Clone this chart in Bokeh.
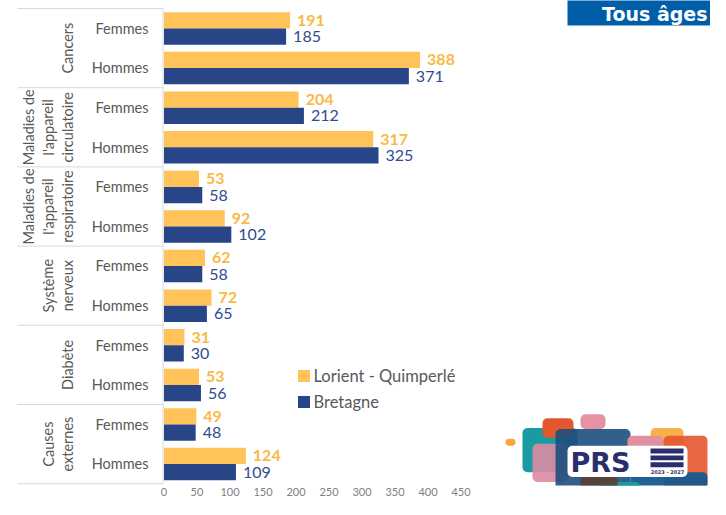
from bokeh.plotting import figure
from bokeh.models import Range1d, FixedTicker
from bokeh.core.properties import value
from bokeh.embed import file_html
from bokeh.resources import INLINE

# ---------------- data ----------------
groups = [["Cancers"],
          ["Maladies de", "l'appareil", "circulatoire"],
          ["Maladies de", "l'appareil", "respiratoire"],
          ["Système", "nerveux"],
          ["Diabète"],
          ["Causes", "externes"]]
sexes = ["Femmes", "Hommes"]
series_names = ["Lorient - Quimperlé", "Bretagne"]
lorient = [191, 388, 204, 317, 53, 92, 62, 72, 31, 53, 49, 124]
bretagne = [185, 371, 212, 325, 58, 102, 58, 65, 30, 56, 48, 109]
x_ticks = [0, 50, 100, 150, 200, 250, 300, 350, 400, 450]

# ---------------- style ----------------
ORANGE = "#FFC35A"
ORANGE_TXT = "#F9B945"
BLUE = "#284587"
BLUE_TXT = "#2F4C8E"
GRAY = "#595959"
LINE = "#D9D9D9"
FONT = "Lato"

W, H = 710, 499
PX0, KX = 163.5, 0.66            # figure px of value 0, px per unit
ROW = 39.6                       # px per row
TOP = 8.0                        # px above first row
FRAME_H = 485


def rx(ref_x):                   # reference px -> data x
    return (ref_x - PX0) / KX


def ry(ref_y):                   # reference px -> row units
    return (ref_y - 9) / 40.4


def fy(fig_y):                   # figure px -> row units
    return (fig_y - TOP) / ROW


p = figure(width=W, height=H, output_backend="svg", toolbar_location=None,
           x_range=Range1d((0 - PX0) / KX, (W - PX0) / KX),
           y_range=Range1d((FRAME_H - TOP) / ROW, -TOP / ROW),
           y_axis_location=None, min_border=0, min_border_bottom=H - FRAME_H)
p.grid.visible = False
p.outline_line_color = None
p.background_fill_color = "white"
p.border_fill_color = "white"

ax = p.xaxis[0]
ax.ticker = FixedTicker(ticks=x_ticks)
ax.axis_line_color = None
ax.major_tick_line_color = None
ax.minor_tick_line_color = None
ax.major_tick_out = 0
ax.major_tick_in = 0
ax.major_label_standoff = 2
ax.major_label_text_font = FONT
ax.major_label_text_font_size = "11px"
ax.major_label_text_color = "#808080"

n = len(lorient)
centers = [i + 0.5 for i in range(n)]
y_or = [i + 0.30 for i in range(n)]
y_bl = [i + 0.71 for i in range(n)]

# separators and axis line
bounds = list(range(0, n + 1, 2))
p.segment(x0=[rx(17)] * len(bounds), x1=[rx(162.5)] * len(bounds),
          y0=bounds, y1=bounds, line_color=LINE, line_width=1)
p.segment(x0=[rx(162.5)], x1=[rx(162.5)], y0=[0], y1=[n], line_color=LINE, line_width=1)

# bars
p.hbar(y=y_or, left=0, right=lorient, height=0.41, fill_color=ORANGE, line_color=None)
p.hbar(y=y_bl, left=0, right=bretagne, height=0.41, fill_color=BLUE, line_color=None)

# value labels
p.text(x=lorient, y=y_or, text=[str(v) for v in lorient], x_offset=7,
       text_baseline="middle", text_align="left", text_font=value(FONT),
       text_font_style="bold", text_font_size="16px", text_color=ORANGE_TXT)
p.text(x=bretagne, y=y_bl, text=[str(v) for v in bretagne], x_offset=7,
       text_baseline="middle", text_align="left", text_font=value(FONT),
       text_font_size="16px", text_color=BLUE_TXT)

# sex labels
p.text(x=[rx(148)] * n, y=centers, text=sexes * len(groups),
       text_align="right", text_baseline="middle", text_font=value(FONT),
       text_font_size="14.5px", text_color=GRAY)

# group labels (rotated)
gx, gy, gt = [], [], []
for g, lines in enumerate(groups):
    k = len(lines)
    for j, t in enumerate(lines):
        gx.append(rx(67 - 19.5 * (k - 1 - j)))
        gy.append(2 * g + 1)
        gt.append(t)
p.text(x=gx, y=gy, text=gt, angle=1.5708, text_align="center",
       text_baseline="middle", text_font=value(FONT), text_font_size="14.5px",
       text_color=GRAY)

# legend
p.scatter(x=[rx(303.5)] * 2, y=[ry(384), ry(410.5)], marker="square", size=12,
          fill_color=[ORANGE, BLUE], line_color=None)
p.text(x=[rx(313)] * 2, y=[ry(384), ry(410.5)], text=series_names,
       text_baseline="middle", text_align="left", text_font=value(FONT),
       text_font_size="16.5px", text_color=GRAY)

# "Tous âges" banner
p.quad(left=[rx(567)], right=[rx(740)], top=[-1], bottom=[fy(25)],
       fill_color="#005DA8", line_color=None)
p.text(x=[rx(707)], y=[fy(13)], text=["Tous âges"], text_align="right",
       text_baseline="alphabetic", text_font=value("DejaVu Sans"),
       text_font_style="bold", text_font_size="19px", text_color="white")

# PRS logo (decoration)
logo = [
    (522, 577, 437, 482, "#1A9BA1", 1.0),
    (542, 573, 427, 447, "#E4572E", 1.0),
    (580, 605, 423, 438, "#E691A4", 1.0),
    (532, 567, 453, 492, "#DB8BA3", 0.9),
    (555, 630, 438, 512, "#1C4F7E", 0.9),
    (650, 683, 437, 462, "#F8B04B", 1.0),
    (627, 663, 445, 465, "#E28FA0", 1.0),
    (663, 707, 445, 498, "#E4572E", 0.9),
    (630, 707, 482, 515, "#15598F", 0.95),
    (600, 640, 492, 515, "#1A9BA1", 1.0),
    (580, 617, 485, 505, "#5C3F2C", 0.85),
    (505, 515, 448, 455, "#F6A93B", 1.0),
    (567, 687, 455, 487, "#FFFFFF", 1.0),
]
for l, r, t, b, c, a in logo:
    p.quad(left=[rx(l)], right=[rx(r)], top=[ry(t)], bottom=[ry(b)],
           fill_color=c, fill_alpha=a, line_color=None, border_radius=5)
for t, b in [(458, 463), (465, 470), (472, 477)]:
    p.quad(left=[rx(650)], right=[rx(683)], top=[ry(t)], bottom=[ry(b)],
           fill_color="#2A2E6C", line_color=None)
p.text(x=[rx(570)], y=[ry(472)], text=["PRS"], text_align="left",
       text_baseline="middle", text_font=value("DejaVu Sans"),
       text_font_style="bold", text_font_size="27px", text_color="#2A2E6C")
p.text(x=[rx(667)], y=[ry(482)], text=["2023 - 2027"], text_align="center",
       text_baseline="middle", text_font=value("DejaVu Sans"),
       text_font_style="bold", text_font_size="5px", text_color="#2A2E6C")

open("out.html", "w").write(file_html(p, INLINE))
